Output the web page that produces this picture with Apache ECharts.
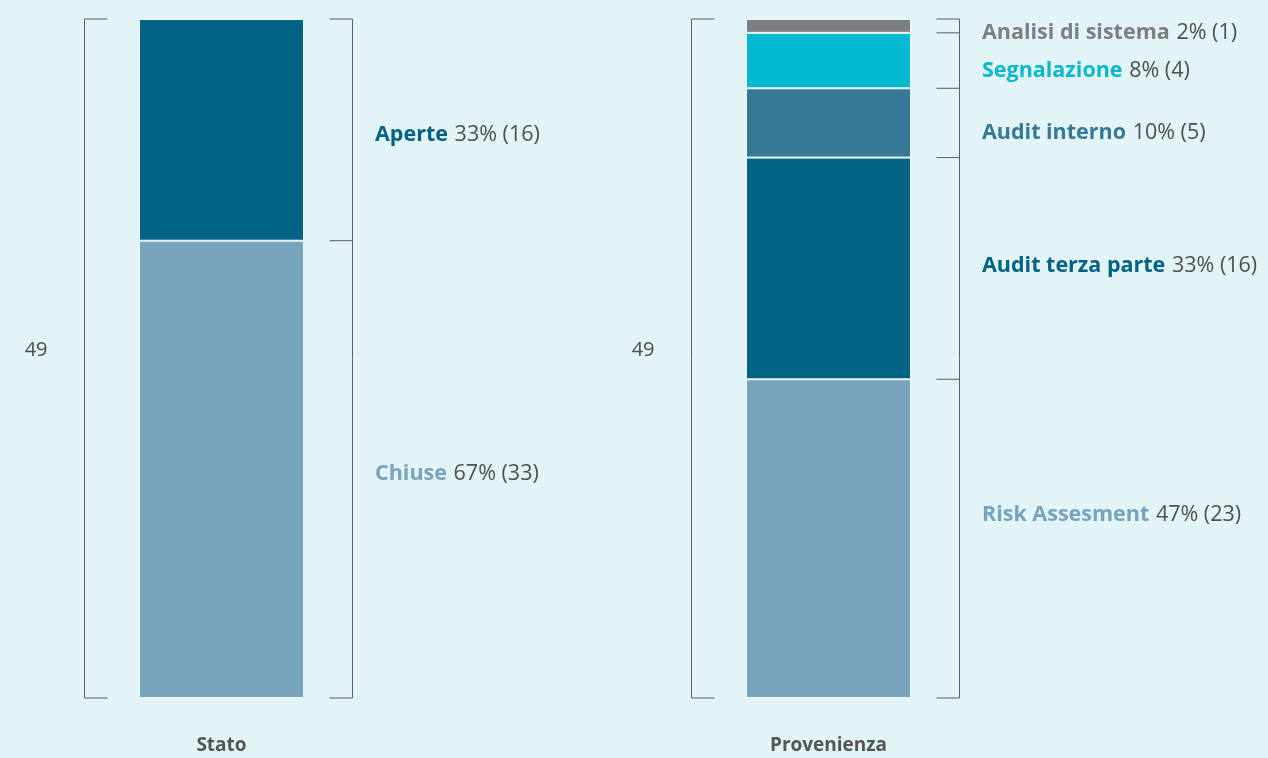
<!DOCTYPE html>
<html>
<head>
<meta charset="utf-8">
<script src="https://cdn.jsdelivr.net/npm/echarts@6/dist/echarts.min.js"></script>
<style>
  html, body { margin: 0; padding: 0; background: #e2f4f6; }
  #chart { width: 1268px; height: 758px; }
</style>
</head>
<body>
<div id="chart"></div>
<script>
// dati (dal basso verso l'alto)
var statoNames = ['Chiuse', 'Aperte'];
var statoValues = [33, 16];
var statoColors = ['#78a3bd', '#006285'];

var provNames = ['Risk Assesment', 'Audit terza parte', 'Audit interno', 'Segnalazione', 'Analisi di sistema'];
var provValues = [23, 16, 5, 4, 1];
var provColors = ['#78a3bd', '#006285', '#357997', '#02b9cf', '#7c7f82'];

var categories = ['Stato', 'Provenienza'];

// spostamenti verticali delle etichette (solo stile)
var statoLabelOffsets = [5, 5];
var provLabelOffsets = [-24, -3, 10, 10, 7];

var FONT = '"Open Sans", "Noto Sans", sans-serif';
var GRAY = '#4f4f4f';

function sum(arr) {
  return arr.reduce(function (a, b) { return a + b; }, 0);
}

function makeBars(names, values, colors, offsets, gridIdx) {
  var total = sum(values);
  return names.map(function (name, i) {
    var pct = Math.round(values[i] / total * 100);
    return {
      name: name,
      type: 'bar',
      stack: 'tot' + gridIdx,
      xAxisIndex: gridIdx,
      yAxisIndex: gridIdx,
      barWidth: 165,
      itemStyle: { color: colors[i], borderColor: '#eef8fa', borderWidth: 1 },
      label: {
        show: true,
        position: 'right',
        distance: 71,
        offset: [0, offsets[i]],
        formatter: '{n|' + name + '}  {v|' + pct + '% (' + values[i] + ')}',
        rich: {
          n: { fontFamily: FONT, fontWeight: 'bold', fontSize: 21.5, color: colors[i] },
          v: { fontFamily: FONT, fontSize: 21.5, color: GRAY }
        }
      },
      data: [values[i]]
    };
  });
}

// parentesi laterali + totale
function makeBracket(values, gridIdx) {
  var total = sum(values);
  return {
    type: 'custom',
    xAxisIndex: gridIdx,
    yAxisIndex: gridIdx,
    silent: true,
    z: 1,
    data: [[0, total]],
    renderItem: function (params, api) {
      var bottom = api.coord([0, 0]);
      var top = api.coord([0, api.value(1)]);
      var cx = bottom[0];
      var lx = cx - 137, rx = cx + 131, tick = 23;
      var ls = { stroke: '#5e5e5e', lineWidth: 1, fill: null };
      var children = [
        { type: 'polyline', shape: { points: [[lx + tick, top[1]], [lx, top[1]], [lx, bottom[1]], [lx + tick, bottom[1]]] }, style: ls },
        { type: 'line', shape: { x1: rx, y1: top[1], x2: rx, y2: bottom[1] }, style: ls },
        { type: 'line', shape: { x1: rx - tick, y1: bottom[1], x2: rx, y2: bottom[1] }, style: ls },
        {
          type: 'text',
          style: {
            x: lx - 37, y: (top[1] + bottom[1]) / 2 - 8,
            text: String(total), textAlign: 'right', textVerticalAlign: 'middle',
            font: '20px ' + FONT, fill: GRAY
          }
        }
      ];
      var acc = 0;
      for (var i = 0; i < values.length; i++) {
        acc += values[i];
        var y = api.coord([0, acc])[1];
        children.push({ type: 'line', shape: { x1: rx - tick, y1: y, x2: rx, y2: y }, style: ls });
      }
      return { type: 'group', children: children };
    }
  };
}

var chart = echarts.init(document.getElementById('chart'));

var axisX = function (idx) {
  return {
    type: 'category',
    gridIndex: idx,
    data: [categories[idx]],
    axisLine: { show: false },
    axisTick: { show: false },
    axisLabel: { margin: 38, fontFamily: FONT, fontWeight: 'bold', fontSize: 19, color: '#555' }
  };
};
var axisY = function (idx) {
  return { type: 'value', gridIndex: idx, min: 0, max: 49, show: false, splitLine: { show: false } };
};

var option = {
  backgroundColor: '#e2f4f6',
  animation: false,
  grid: [
    { left: 88, width: 267, top: 19, bottom: 60 },
    { left: 695, width: 267, top: 19, bottom: 60 }
  ],
  xAxis: [axisX(0), axisX(1)],
  yAxis: [axisY(0), axisY(1)],
  series: []
    .concat(makeBars(statoNames, statoValues, statoColors, statoLabelOffsets, 0))
    .concat(makeBars(provNames, provValues, provColors, provLabelOffsets, 1))
    .concat([makeBracket(statoValues, 0), makeBracket(provValues, 1)])
};

chart.setOption(option);
</script>
</body>
</html>
